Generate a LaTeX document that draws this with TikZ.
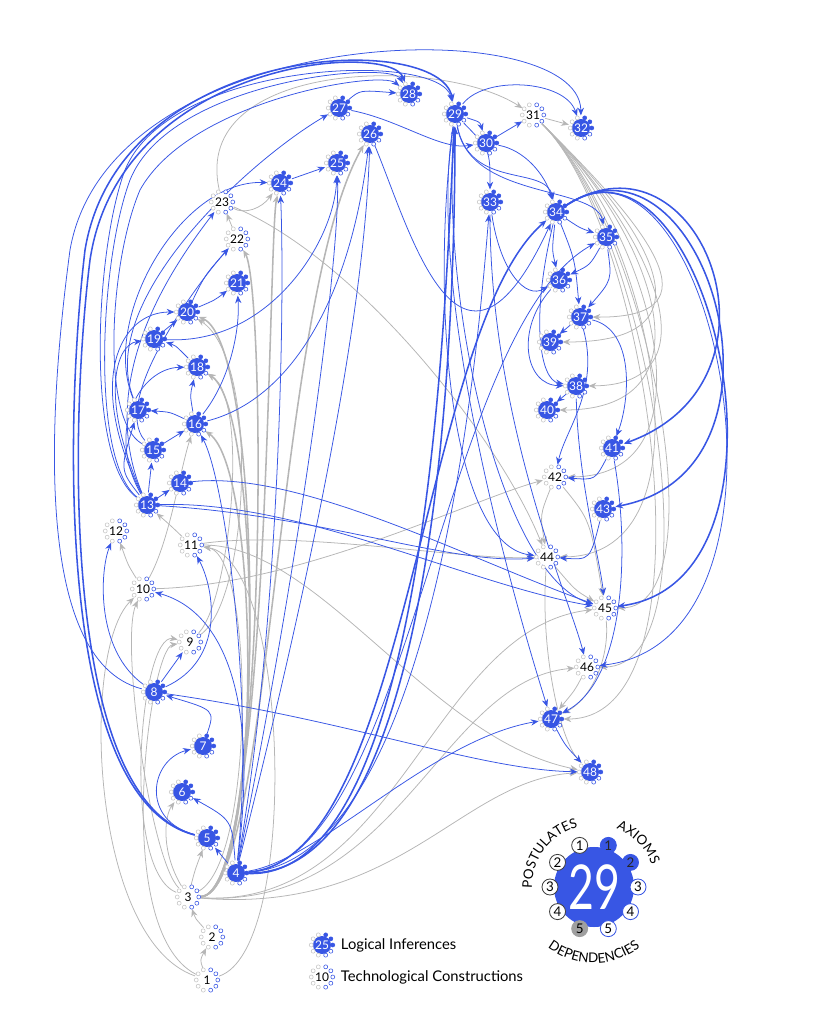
\documentclass[tikz,border=0pt]{standalone}
\usepackage{fontspec}
\setmainfont{Lato}
\usetikzlibrary{arrows.meta,backgrounds,decorations.text}

\definecolor{liblue}{RGB}{56,86,228}
\definecolor{edgegray}{RGB}{182,182,182}
\newcommand{\lnum}{\fontsize{8.5}{9}\selectfont}

\tikzset{
  li/.style={circle, fill=liblue, text=white, minimum size=0.45cm, inner sep=0pt, outer sep=0.09cm, font=\lnum},
  tc/.style={circle, fill=white, text=black, minimum size=0.45cm, inner sep=0pt, outer sep=0.09cm, font=\lnum},
  li top/.style={draw=liblue, fill=liblue, line width=0.4pt},
  li ax/.style={draw=liblue, fill=white, line width=0.4pt},
  li post/.style={draw=gray!45, fill=white, line width=0.4pt},
  tc top/.style={draw=liblue, fill=white, line width=0.4pt},
  tc ax/.style={draw=liblue, fill=white, line width=0.4pt},
  tc post/.style={draw=gray!45, fill=white, line width=0.4pt},
  le/.style={draw=liblue, line width=0.55pt, -{Stealth[length=5.5pt,width=4.5pt]}},
  leb/.style={le, line width=1.1pt},
  ge/.style={draw=edgegray, line width=0.55pt, -{Stealth[length=5.5pt,width=4.5pt]}},
  geb/.style={ge, line width=1.1pt},
  bigdot/.style={circle, minimum size=0.4cm, inner sep=0pt, line width=0.6pt, font=\fontsize{9.5}{10}\selectfont},
  keytext/.style={anchor=west, font=\fontsize{10.5}{12}\selectfont}
}

% ring of postulate / axiom dots round a node
\newcommand{\ringdots}[2]{%
  \foreach \ang in {110,145,180,215,250} \draw[#2 post] (#1.center) ++(\ang:0.27cm) circle (0.05cm);
  \foreach \ang in {70,35,0} \draw[#2 top] (#1.center) ++(\ang:0.27cm) circle (0.05cm);
  \foreach \ang in {-35,-70} \draw[#2 ax] (#1.center) ++(\ang:0.27cm) circle (0.05cm);
}

\begin{document}
\begin{tikzpicture}[x={(0.025cm,0cm)}, y={(0cm,-0.025cm)}]
  \useasboundingbox (0,0) rectangle (840,1024);

  % Propositions
  \foreach \lab/\px/\py/\k in {
      1/207/980/tc, 2/212/937/tc, 3/188/897/tc, 4/236/873/li, 5/207/838/li,
      6/182/792/li, 7/203/746/li, 8/154/692/li, 9/190/642/tc, 10/143/589/tc,
      11/191/545/tc, 12/116/531/tc, 13/147/505/li, 14/180/483/li, 15/153/450/li,
      16/195/424/li, 17/138/410/li, 18/197/367/li, 19/154/339/li, 20/187/312/li,
      21/237/283/li, 22/237/239/tc, 23/222/202/tc, 24/280/183/li, 25/337/163/li,
      26/370/134/li, 27/339/108/li, 28/409/94/li, 29/455/114/li, 30/486/143/li,
      31/533/115/tc, 32/581/128/li, 33/490/202/li, 34/556/212/li, 35/606/237/li,
      36/559/280/li, 37/580/317/li, 38/576/386/li, 39/550/342/li, 40/547/410/li,
      41/612/448/li, 42/555/477/tc, 43/603/509/li, 44/547/557/tc, 45/605/608/tc,
      46/587/667/tc, 47/551/719/li, 48/590/772/li} {
    \node[\k] (n\lab) at (\px,\py) {\lab};
    \ringdots{n\lab}{\k}
  }

  \begin{scope}[on background layer]
    % technological constructions
    \draw[ge] (n1) .. controls (200,960) .. (n2);
    \draw[ge] (n2) .. controls (195,918) .. (n3);
    \draw[ge] (n1) .. controls (90,940) and (80,650) .. (n10);
    \draw[ge] (n1) .. controls (110,930) and (150,648) .. (n9);
    \draw[ge] (n1) .. controls (300,950) and (290,560) .. (n11);
    \draw[ge] (n3) .. controls (195,870) .. (n5);
    \draw[ge] (n3) .. controls (160,850) and (165,815) .. (n6);
    \draw[ge] (n3) .. controls (120,870) and (140,632) .. (n9);
    \draw[ge] (n3) .. controls (150,860) and (120,640) .. (n10);
    \draw[ge] (n3) .. controls (255,860) and (255,555) .. (n11);
    \draw[geb] (n3) .. controls (262,895) and (262,470) .. (n16);
    \draw[geb] (n3) .. controls (264,895) and (264,410) .. (n18);
    \draw[geb] (n3) .. controls (266,895) and (266,345) .. (n20);
    \draw[geb] (n3) .. controls (268,895) and (266,290) .. (n22);
    \draw[geb] (n3) .. controls (270,895) and (268,240) .. (n24);
    \draw[geb] (n3) .. controls (272,895) and (275,300) .. (n26);
    \draw[ge] (n3) .. controls (400,910) and (430,630) .. (n45);
    \draw[ge] (n3) .. controls (400,910) and (440,680) .. (n46);
    \draw[ge] (n3) .. controls (400,915) and (460,780) .. (n48);
    \draw[ge] (n9) .. controls (230,600) and (250,400) .. (n18);
    \draw[ge] (n9) .. controls (250,600) and (260,360) .. (n20);
    \draw[ge] (n10) .. controls (128,565) .. (n12);
    \draw[ge] (n10) .. controls (170,540) and (180,470) .. (n16);
    \draw[ge] (n10) .. controls (300,585) and (470,500) .. (n42);
    \draw[ge] (n11) .. controls (170,525) .. (n13);
    \draw[ge] (n11) .. controls (300,530) and (460,560) .. (n44);
    \draw[ge] (n11) .. controls (320,545) and (430,740) .. (n48);
    \draw[ge] (n22) -- (n23);
    \draw[ge] (n23) .. controls (245,215) and (262,208) .. (n24);
    \draw[ge] (n23) .. controls (360,260) and (500,440) .. (n44);
    \draw[ge] (n23) .. controls (190,60) and (440,55) .. (n31);
    \draw[ge] (n31) -- (n32);
    \foreach \tg/\ty in {37/318,39/342,38/385,40/410,42/476,44/556,45/607,46/667,47/719}
      \draw[ge] (n31) .. controls (650,230) and (720,\ty) .. (n\tg);
    \draw[ge] (n42) .. controls (540,515) .. (n44);
    \draw[ge] (n42) .. controls (590,520) .. (n45);
    \draw[ge] (n44) .. controls (575,590) .. (n45);
    \draw[ge] (n44) .. controls (540,650) and (560,740) .. (n48);
    \draw[ge] (n45) .. controls (610,660) and (590,700) .. (n47);
    \draw[ge] (n46) .. controls (575,690) .. (n47);

    % logical inferences
    \draw[le] (n4) -- (n5);
    \draw[le] (n4) .. controls (232,820) .. (n6);
    \draw[le] (n5) .. controls (140,820) and (150,760) .. (n7);
    \draw[le] (n7) .. controls (215,710) .. (n8);
    \draw[le] (n8) -- (n9);
    \draw[le] (n8) .. controls (95,650) and (100,570) .. (n12);
    \draw[le] (n8) .. controls (225,660) and (215,590) .. (n11);
    \draw[le] (n8) .. controls (350,720) and (480,770) .. (n48);
    \draw[le] (n4) .. controls (260,690) and (220,610) .. (n10);
    \draw[le] (n4) .. controls (255,700) and (225,480) .. (n16);
    \draw[le] (n4) .. controls (280,620) and (285,300) .. (n24);
    \draw[le] (n4) .. controls (300,560) and (340,260) .. (n25);
    \draw[le] (n4) .. controls (320,540) and (365,300) .. (n26);
    \draw[leb] (n4) .. controls (430,880) and (445,300) .. (n29);
    \draw[leb] (n4) .. controls (440,875) and (455,320) .. (n29);
    \draw[le] (n4) .. controls (440,860) and (480,320) .. (n33);
    \draw[leb] (n4) .. controls (410,860) and (420,330) .. (n34);
    \draw[le] (n4) .. controls (410,860) and (440,330) .. (n35);
    \draw[le] (n4) .. controls (320,860) and (430,740) .. (n47);
    \draw[leb] (n5) .. controls (60,800) and (70,420) .. (90,260) .. controls (120,60) and (390,40) .. (n28);
    \draw[leb] (n5) .. controls (55,800) and (65,420) .. (85,250) .. controls (120,40) and (440,30) .. (n29);
    \draw[le] (n8) .. controls (30,660) and (50,400) .. (70,250) .. controls (110,20) and (580,10) .. (n32);
    \draw[le] (n13) .. controls (90,460) and (100,260) .. (130,180) .. controls (170,80) and (390,60) .. (n28);
    \draw[le] (n13) .. controls (85,460) and (95,250) .. (125,170) .. controls (170,60) and (440,50) .. (n29);
    \draw[le] (n15) .. controls (100,420) and (110,260) .. (140,190) .. controls (190,100) and (380,70) .. (n28);
    \draw[le] (n13) -- (n14);
    \draw[le] (n13) -- (n15);
    \draw[le] (n13) .. controls (120,470) .. (n17);
    \draw[le] (n13) .. controls (105,430) and (140,368) .. (n18);
    \draw[le] (n13) .. controls (100,400) and (115,345) .. (n19);
    \draw[le] (n13) .. controls (85,380) and (120,312) .. (n20);
    \draw[le] (n13) .. controls (95,380) and (170,270) .. (n23);
    \draw[le] (n15) .. controls (110,400) and (200,280) .. (n22);
    \draw[le] (n15) -- (n16);
    \draw[le] (n16) .. controls (170,412) .. (n17);
    \draw[le] (n16) .. controls (190,395) .. (n18);
    \draw[le] (n18) .. controls (175,345) .. (n19);
    \draw[le] (n16) .. controls (230,380) and (240,330) .. (n21);
    \draw[le] (n16) .. controls (290,400) and (350,300) .. (n26);
    \draw[le] (n19) -- (n20);
    \draw[le] (n19) .. controls (270,345) and (335,240) .. (n25);
    \draw[le] (n20) .. controls (215,300) .. (n21);
    \draw[le] (n20) .. controls (205,275) .. (n22);
    \draw[le] (n17) .. controls (100,320) and (180,180) .. (n24);
    \draw[le] (n17) .. controls (95,300) and (250,160) .. (n27);
    \draw[le] (n24) -- (n25);
    \draw[le] (n27) .. controls (360,90) .. (n28);
    \draw[le] (n27) .. controls (400,120) and (440,150) .. (n30);
    \draw[le] (n26) .. controls (410,230) and (460,420) .. (n34);
    \draw[le] (n29) .. controls (480,122) .. (n30);
    \draw[le] (n30) -- (n31);
    \draw[le] (n29) .. controls (485,75) and (565,80) .. (n32);
    \draw[le] (n29) .. controls (490,150) .. (n33);
    \draw[le] (n29) .. controls (470,190) and (545,165) .. (n34);
    \draw[le] (n29) .. controls (470,200) and (595,185) .. (n35);
    \draw[le] (n30) .. controls (525,150) and (545,175) .. (n34);
    \draw[le] (n33) .. controls (500,270) and (525,300) .. (n36);
    \draw[le] (n33) .. controls (490,420) and (570,600) .. (n46);
    \draw[le] (n29) .. controls (430,300) and (450,545) .. (n44);
    \draw[le] (n29) .. controls (440,300) and (500,575) .. (n45);
    \draw[le] (n29) .. controls (425,300) and (520,620) .. (n47);
    \draw[le] (n34) .. controls (580,228) .. (n35);
    \draw[le] (n34) .. controls (552,250) .. (n36);
    \draw[le] (n34) .. controls (575,260) .. (n37);
    \draw[le] (n34) .. controls (530,320) and (540,380) .. (n38);
    \draw[le] (n35) .. controls (590,265) .. (n36);
    \draw[le] (n35) .. controls (612,280) .. (n37);
    \draw[le] (n36) .. controls (515,330) and (525,385) .. (n38);
    \draw[le] (n37) -- (n39);
    \draw[le] (n37) .. controls (635,330) and (630,400) .. (n41);
    \draw[le] (n37) .. controls (600,390) and (565,430) .. (n42);
    \draw[le] (n38) -- (n40);
    \draw[le] (n38) .. controls (578,480) and (600,560) .. (n45);
    \draw[le] (n41) .. controls (595,480) .. (n42);
    \draw[le] (n41) .. controls (630,550) and (625,680) .. (n47);
    \draw[le] (n43) .. controls (590,560) .. (n44);
    \draw[le] (n47) .. controls (565,745) .. (n48);
    \draw[leb] (n34) .. controls (700,120) and (800,380) .. (n41);
    \draw[leb] (n34) .. controls (705,115) and (810,470) .. (n43);
    \draw[leb] (n34) .. controls (710,110) and (815,580) .. (n45);
    \draw[le] (n34) .. controls (715,105) and (820,640) .. (n46);
    \draw[le] (n14) .. controls (300,470) and (470,560) .. (n45);
    \draw[le] (n13) .. controls (300,500) and (470,585) .. (n45);
    \draw[le] (n13) .. controls (320,515) and (450,565) .. (n44);
  \end{scope}

  % Key
  \node[li, minimum size=2cm] (big) at (594,887) {\scalebox{0.72}[1]{\fontsize{44}{44}\selectfont 29}};
  \foreach \ang/\lab in {109/1,146/2,180/3,214/4}
    \path (big.center) ++(\ang:1.1cm) node[bigdot, draw=black!75, fill=white] (p\lab) {\lab};
  \path (big.center) ++(251:1.1cm) node[bigdot, draw=gray!75, fill=gray!75] (p5) {5};
  \foreach \ang/\lab in {71/1,34/2}
    \path (big.center) ++(\ang:1.1cm) node[bigdot, draw=liblue, fill=liblue, text=black!85] (a\lab) {\lab};
  \foreach \ang/\lab in {0/3,-34/4,-71/5}
    \path (big.center) ++(\ang:1.1cm) node[bigdot, draw=liblue, fill=white] (a\lab) {\lab};
  \path[decorate, decoration={text along path, text align=center,
      text={|\fontsize{9.5}{10}\selectfont|POSTULATES}}]
    (big.center) ++(200:1.55cm) arc[start angle=200, end angle=86, radius=1.55cm];
  \path[decorate, decoration={text along path, text align=center,
      text={|\fontsize{9.5}{10}\selectfont|AXIOMS}}]
    (big.center) ++(80:1.55cm) arc[start angle=80, end angle=10, radius=1.55cm];
  \path[decorate, decoration={text along path, text align=center,
      text={|\fontsize{9.5}{10}\selectfont|DEPENDENCIES}}]
    (big.center) ++(220:1.9cm) arc[start angle=220, end angle=320, radius=1.9cm];

  \node[li] (key25) at (322,945) {25};
  \ringdots{key25}{li}
  \node[tc] (key10) at (322,977) {10};
  \ringdots{key10}{tc}
  \node[keytext] (keyli) at (336,945) {Logical Inferences};
  \node[keytext] (keytc) at (336,977) {Technological Constructions};
\end{tikzpicture}
\end{document}
